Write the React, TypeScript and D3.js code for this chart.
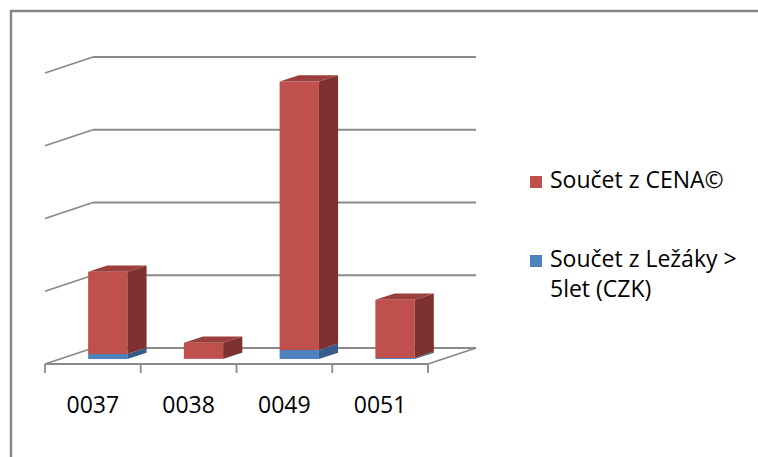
import React from 'react';
import * as d3 from 'd3';

const categories = ['0037', '0038', '0049', '0051'];
const cenaValues = [113000, 22000, 369000, 80000];
const lezakyValues = [6900, 300, 12400, 1400];
const yTicks = [0, 100000, 200000, 300000, 400000];
const legendItems = [
  { lines: ['Součet z CENA©'], color: '#C0504D' },
  { lines: ['Součet z Ležáky >', '5let (CZK)'], color: '#4F81BD' },
];

const W = 758;
const H = 457;
const depthX = 48;
const depthY = -16;
const barFront = 0.31;
const barBack = 0.71;
const font = '"Open Sans", sans-serif';
const gridColor = '#8a8a8a';

export default function App() {
  const x = d3
    .scaleBand()
    .domain(categories)
    .range([45, 428])
    .paddingInner(0.59)
    .paddingOuter(0.295);
  const y = d3.scaleLinear().domain([0, 400000]).range([364, 73]);
  const step = x.step();
  const x0 = 45;

  // point on plane at given depth fraction
  const P = (px, v, d) => [px + d * depthX, y(v) + d * depthY];
  const pts = (arr) => arr.map((p) => p.join(',')).join(' ');

  const stacks = categories.map((c, i) => ({
    cat: c,
    segs: [
      { from: 0, to: lezakyValues[i], front: '#4F81BD', side: '#385D8A', top: '#4470A6' },
      { from: lezakyValues[i], to: lezakyValues[i] + cenaValues[i], front: '#C0504D', side: '#7E3230', top: '#9B3F3C' },
    ],
  }));

  const bdx = (barBack - barFront) * depthX;
  const bdy = (barBack - barFront) * depthY;

  return (
    <svg width={W} height={H} style={{ position: 'absolute', left: 0, top: 0 }}>
      <rect x={0} y={0} width={W} height={H} fill="#fff" />
      <rect x={11} y={11} width={W + 20} height={H + 20} fill="none" stroke="#868686" strokeWidth={2.5} />

      {/* back wall + side wall gridlines */}
      {yTicks.map((t) => {
        const [bx, by] = P(x0, t, 1);
        const [fx, fy] = P(x0, t, 0);
        return (
          <g key={t} stroke={gridColor} strokeWidth={1.8} fill="none">
            <line x1={bx} y1={by} x2={bx + 4 * step} y2={by} />
            <line x1={fx} y1={fy} x2={bx} y2={by} />
          </g>
        );
      })}

      {/* floor front + right edge */}
      <g stroke={gridColor} strokeWidth={1.8} fill="none">
        <line x1={x0} y1={y(0)} x2={x0 + 4 * step} y2={y(0)} />
        <line x1={x0 + 4 * step} y1={y(0)} x2={x0 + 4 * step + depthX} y2={y(0) + depthY} />
        {d3.range(5).map((i) => (
          <line key={i} x1={x0 + i * step} y1={y(0)} x2={x0 + i * step} y2={y(0) + 9} />
        ))}
      </g>

      {/* bars */}
      {stacks.map((s) => {
        const bx = x(s.cat);
        const bw = x.bandwidth();
        const last = s.segs.length - 1;
        return (
          <g key={s.cat}>
            {s.segs.map((g, j) => {
              const [ax, ay] = P(bx, g.to, barFront);
              const [, by] = P(bx, g.from, barFront);
              const r = ax + bw;
              return (
                <g key={j}>
                  <rect x={ax} y={ay} width={bw} height={Math.max(0, by - ay)} fill={g.front} />
                  <polygon
                    points={pts([[r, ay], [r + bdx, ay + bdy], [r + bdx, by + bdy], [r, by]])}
                    fill={g.side}
                  />
                  {j === last && (
                    <polygon
                      points={pts([[ax, ay], [ax + bdx, ay + bdy], [r + bdx, ay + bdy], [r, ay]])}
                      fill={g.top}
                    />
                  )}
                </g>
              );
            })}
          </g>
        );
      })}

      {/* category labels */}
      {categories.map((c) => (
        <text
          key={c}
          x={x(c) + x.bandwidth() / 2}
          y={413}
          textAnchor="middle"
          fontFamily={font}
          fontSize={23}
          fill="#000"
        >
          {c}
        </text>
      ))}

      {/* legend */}
      {legendItems.map((it, i) => {
        const ly = 176 + i * 79;
        return (
          <g key={i}>
            <rect x={530} y={ly} width={12} height={12} fill={it.color} />
            {it.lines.map((ln, k) => (
              <text key={k} x={550} y={ly + 12 + k * 30} fontFamily={font} fontSize={23} fill="#000">
                {ln}
              </text>
            ))}
          </g>
        );
      })}
    </svg>
  );
}
